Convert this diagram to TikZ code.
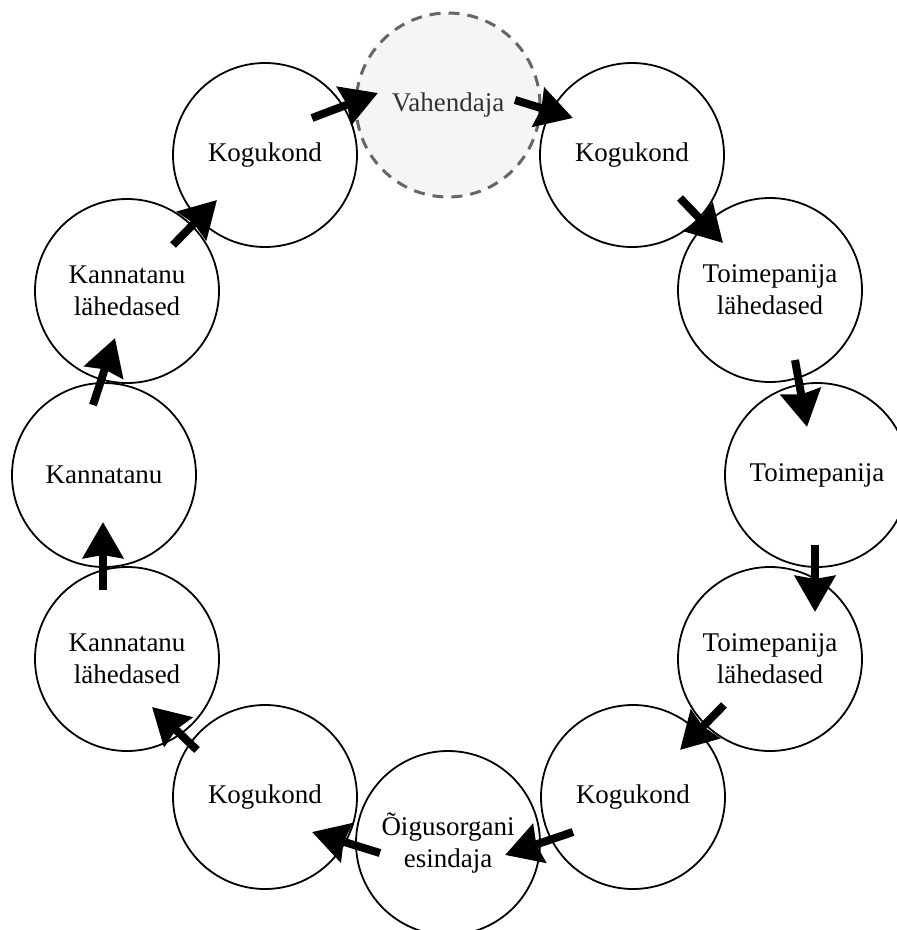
\documentclass[tikz,border=0pt]{standalone}
\usepackage{fontspec}
\setmainfont{Liberation Serif}
\usetikzlibrary{arrows.meta}
\definecolor{vfill}{HTML}{F5F5F5}
\definecolor{vdraw}{HTML}{666666}
\definecolor{vtext}{HTML}{333333}
\tikzset{
  party/.style={circle, draw=black, line width=1.8pt, fill=white, minimum size=184pt, inner sep=0pt, align=center, font=\fontsize{27}{32}\selectfont},
  mediator/.style={party, draw=vdraw, fill=vfill, text=vtext, line width=3pt, dash pattern=on 11pt off 8pt},
  flow/.style={line width=8pt, -{Stealth[length=36pt, width=40pt, inset=3pt]}},
}
\begin{document}
\begin{tikzpicture}[x=1pt, y=-1pt]
\useasboundingbox (0,0) rectangle (897,930);
\node[mediator] (V) at (448,105) {Vahendaja};
\node[party] (K1) at (265,155) {Kogukond};
\node[party] (K2) at (632,155) {Kogukond};
\node[party] (TL1) at (770,290) {Toimepanija\\lähedased};
\node[party] (T) at (817,475) {Toimepanija};
\node[party] (TL2) at (770,659) {Toimepanija\\lähedased};
\node[party] (K3) at (633,797) {Kogukond};
\node[party] (O) at (448,843) {Õigusorgani\\esindaja};
\node[party] (K4) at (265,797) {Kogukond};
\node[party] (KL2) at (127,659) {Kannatanu\\lähedased};
\node[party] (KA) at (104,475) {Kannatanu};
\node[party] (KL1) at (127,291) {Kannatanu\\lähedased};
% arrow end points
\coordinate (a1s) at (312,118); \coordinate (a1e) at (378,93);
\coordinate (a2s) at (515,100); \coordinate (a2e) at (573,118);
\coordinate (a3s) at (680,198); \coordinate (a3e) at (723,243);
\coordinate (a4s) at (795,360); \coordinate (a4e) at (807,427);
\coordinate (a5s) at (815,545); \coordinate (a5e) at (815,612);
\coordinate (a6s) at (724,705); \coordinate (a6e) at (680,750);
\coordinate (a7s) at (573,832); \coordinate (a7e) at (505,855);
\coordinate (a8s) at (380,853); \coordinate (a8e) at (312,832);
\coordinate (a9s) at (197,750); \coordinate (a9e) at (152,707);
\coordinate (a10s) at (103,590); \coordinate (a10e) at (103,522);
\coordinate (a11s) at (93,405); \coordinate (a11e) at (115,338);
\coordinate (a12s) at (173,245); \coordinate (a12e) at (217,200);
\foreach \i in {1,...,12} {
  \draw[flow] (a\i s) -- (a\i e);
}
\end{tikzpicture}
\end{document}
